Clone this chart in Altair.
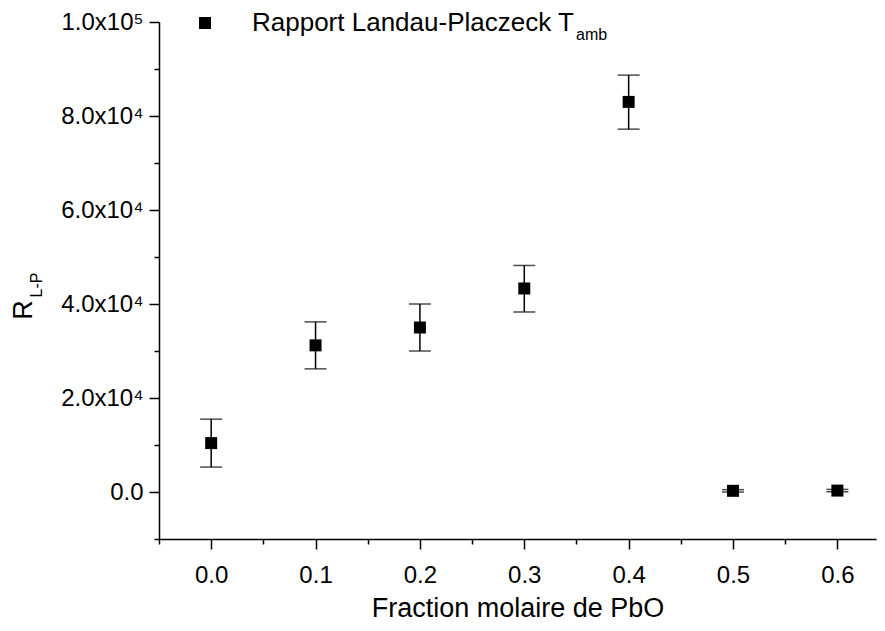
import altair as alt
import pandas as pd

# ---- data ----
fraction = [0.0, 0.1, 0.2, 0.3, 0.4, 0.5, 0.6]
ratio = [10400, 31200, 35000, 43300, 83000, 250, 300]
err_low = [5300, 26200, 30000, 38300, 77200, 0, 50]
err_high = [15500, 36200, 40000, 48200, 88700, 500, 550]
series_name = "Rapport Landau-Placzeck T"

x_major = [0.0, 0.1, 0.2, 0.3, 0.4, 0.5, 0.6]
x_major_labels = ["0.0", "0.1", "0.2", "0.3", "0.4", "0.5", "0.6"]
x_minor = [-0.05, 0.05, 0.15, 0.25, 0.35, 0.45, 0.55]
y_major = [0, 20000, 40000, 60000, 80000, 100000]
y_major_labels = ["0.0", "2.0x10\u2074", "4.0x10\u2074", "6.0x10\u2074", "8.0x10\u2074", "1.0x10\u2075"]
y_minor = [-10000, 10000, 30000, 50000, 70000, 90000]

x_title = "Fraction molaire de PbO"
y_title_main = ["R"]
y_title_sub = ["L-P"]
legend_sub = ["amb"]

FONT = "Liberation Sans"

df = pd.DataFrame({
    "x": fraction,
    "y": ratio,
    "lo": err_low,
    "hi": err_high,
    "series": [series_name] * len(fraction),
})


def label_expr(values, labels):
    expr = "''"
    for v, l in zip(reversed(values), reversed(labels)):
        expr = f"(abs(datum.value - ({v})) < 1e-6 ? '{l}' : {expr})"
    return expr


x_scale = alt.Scale(domain=[-0.05, 0.637], nice=False, zero=False)
y_scale = alt.Scale(domain=[-10000, 100000], nice=False, zero=False)

x_axis = alt.Axis(
    title=x_title,
    values=sorted(x_major + x_minor),
    labelExpr=label_expr(x_major, x_major_labels),
    tickSize={"condition": {"test": "abs(datum.value*10 - round(datum.value*10)) < 0.001", "value": 10}, "value": 5},
    labelPadding=14,
    titlePadding=8,
    titleFontSize=27,
    titleFontWeight="normal",
)
y_axis = alt.Axis(
    title=None,
    values=sorted(y_major + y_minor),
    labelExpr=label_expr(y_major, y_major_labels),
    tickSize={"condition": {"test": "abs(datum.value % 20000) < 1", "value": 10}, "value": 5},
    labelPadding=6,
)

base = alt.Chart(df)

rules = base.mark_rule(color="black", strokeWidth=1.5).encode(
    x=alt.X("x:Q", scale=x_scale, axis=x_axis),
    y=alt.Y("lo:Q", scale=y_scale, axis=y_axis),
    y2="hi:Q",
)
cap_lo = base.mark_tick(orient="horizontal", size=22, thickness=1.5, color="black").encode(
    x=alt.X("x:Q", scale=x_scale),
    y=alt.Y("lo:Q", scale=y_scale),
)
cap_hi = base.mark_tick(orient="horizontal", size=22, thickness=1.5, color="black").encode(
    x=alt.X("x:Q", scale=x_scale),
    y=alt.Y("hi:Q", scale=y_scale),
)
points = base.mark_point(shape="square", filled=True, size=144, color="black", opacity=1).encode(
    x=alt.X("x:Q", scale=x_scale),
    y=alt.Y("y:Q", scale=y_scale),
    shape=alt.Shape(
        "series:N",
        scale=alt.Scale(range=["square"]),
        legend=alt.Legend(
            title=None,
            orient="none",
            legendX=33,
            legendY=-12,
            symbolSize=144,
            symbolFillColor="black",
            symbolStrokeWidth=0,
            labelFontSize=26,
            labelFont=FONT,
            labelColor="black",
            labelOffset=34,
            labelLimit=0,
            padding=0,
        ),
    ),
)

y_title_r = alt.Chart(pd.DataFrame({"t": y_title_main})).mark_text(
    font=FONT, fontSize=27, angle=270, color="black", align="center", baseline="middle"
).encode(x=alt.value(-135), y=alt.value(288), text="t:N")
y_title_s = alt.Chart(pd.DataFrame({"t": y_title_sub})).mark_text(
    font=FONT, fontSize=16, angle=270, color="black", align="center", baseline="middle"
).encode(x=alt.value(-122), y=alt.value(263), text="t:N")
leg_sub = alt.Chart(pd.DataFrame({"t": legend_sub})).mark_text(
    font=FONT, fontSize=16, color="black", align="left", baseline="middle"
).encode(x=alt.value(417), y=alt.value(13), text="t:N")

chart = (
    alt.layer(rules, cap_lo, cap_hi, points, y_title_r, y_title_s, leg_sub)
    .properties(
        width=717,
        height=517,
        padding={"left": 151, "top": 14, "right": 1, "bottom": 84},
        autosize=alt.AutoSizeParams(type="none"),
        background="white",
    )
    .configure_view(stroke=None)
    .configure_axis(
        grid=False,
        domainColor="black",
        domainWidth=1.5,
        tickColor="black",
        tickWidth=1.5,
        labelColor="black",
        labelFont=FONT,
        labelFontSize=24,
        titleFont=FONT,
        titleColor="black",
    )
)

chart.save("out.html", embed_options={"renderer": "svg", "actions": False})
